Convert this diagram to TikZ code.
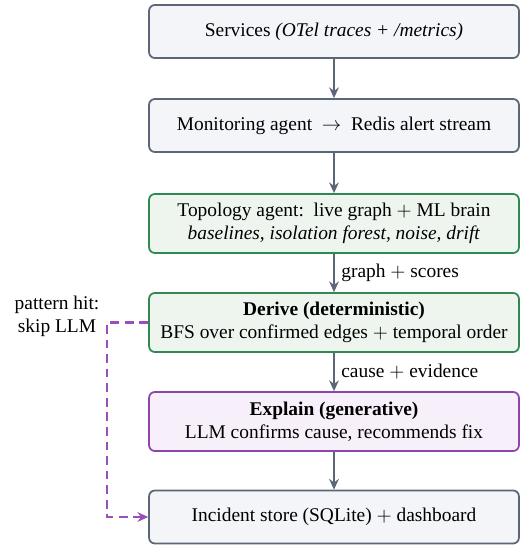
\documentclass[tikz,border=0pt]{standalone}
\usepackage{fontspec}
\setmainfont{Liberation Serif}
\usepackage{amssymb}
\usepackage{amsmath}
\usetikzlibrary{arrows.meta,calc}
\definecolor{slateline}{HTML}{5B6777}
\definecolor{slatefill}{HTML}{F3F5F8}
\definecolor{greenline}{HTML}{2E8A50}
\definecolor{greenfill}{HTML}{EEF5EF}
\definecolor{purpline}{HTML}{8E44AD}
\definecolor{purpfill}{HTML}{F7F0FA}
\definecolor{dashpurp}{HTML}{9B4DB8}

\begin{document}
\begin{tikzpicture}[x=0.515pt,y=-0.515pt,
  stage/.style={draw=slateline,fill=slatefill,line width=0.9pt,rounded corners=3pt,
    minimum width=190.5pt,minimum height=27.3pt,align=center,font=\normalsize},
  mlstage/.style={stage,draw=greenline,fill=greenfill,minimum height=30.4pt},
  derivestage/.style={stage,draw=greenline,fill=greenfill,minimum height=30.4pt},
  llmstage/.style={stage,draw=purpline,fill=purpfill,minimum height=30.4pt},
  flow/.style={-{Stealth[length=5.5pt,width=5pt]},draw=slateline,line width=0.9pt},
  skipflow/.style={-{Stealth[length=5.5pt,width=5pt]},draw=dashpurp,line width=1.1pt,dash pattern=on 4.5pt off 3pt}]
\useasboundingbox (0,0) rectangle (520,546);
\node[stage] (svc) at (334,31.5) {Services \textit{(OTel traces + /metrics)}};
\node[stage] (mon) at (334,125.5) {Monitoring agent~~$\rightarrow$~~Redis alert stream};
\node[mlstage] (topo) at (334,223.5) {Topology agent:~~live graph $+$ ML brain\\
  \textit{baselines, isolation forest, noise, drift}};
\node[derivestage] (derive) at (334,322.5) {\textbf{Derive (deterministic)}\\
  BFS over confirmed edges $+$ temporal order};
\node[llmstage] (explain) at (334,421.5) {\textbf{Explain (generative)}\\
  LLM confirms cause, recommends fix};
\node[stage] (store) at (334,517) {Incident store (SQLite) $+$ dashboard};
\node[align=center] (hitlabel) at (57,316) {pattern hit:\\skip LLM};
\coordinate (skiptop) at (107,322.5);
\coordinate (skipbot) at (107,517);

\draw[flow] (svc) -- (mon);
\draw[flow] (mon) -- (topo);
\draw[flow] (topo) -- node[right] {graph $+$ scores} (derive);
\draw[flow] (derive) -- node[right] {cause $+$ evidence} (explain);
\draw[flow] (explain) -- (store);
\draw[skipflow] (derive.west) -- (skiptop) -- (skipbot) -- (store.west);
\end{tikzpicture}
\end{document}
